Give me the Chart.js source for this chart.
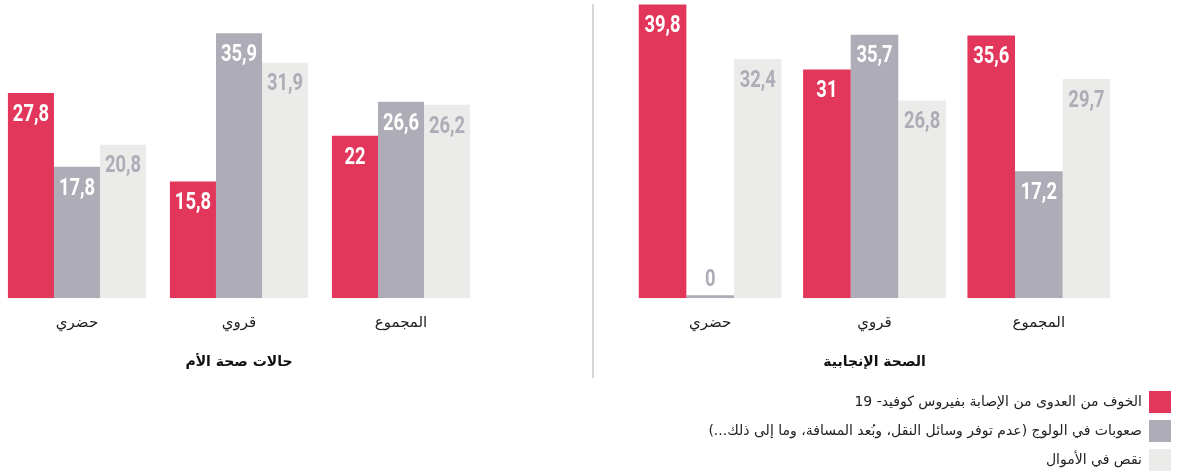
<!DOCTYPE html>
<html><head><meta charset="utf-8">
<script src="https://cdn.jsdelivr.net/npm/chart.js@4.4.1/dist/chart.umd.min.js"></script>
<style>
html,body{margin:0;padding:0;background:#fff;width:1182px;height:476px;overflow:hidden;position:relative;}
canvas{position:absolute;display:block;}
#divider{position:absolute;left:592px;top:4px;width:2px;height:374px;background:#d6d6d6;}
</style></head><body>
<canvas id="cLeft" width="486" height="375" style="left:-4px;top:0"></canvas>
<div id="divider"></div>
<canvas id="cRight" width="493" height="375" style="left:628px;top:0"></canvas>
<canvas id="cLegend" width="1178" height="100" style="left:0;top:384px"></canvas>
<script>
// ---- data ----
const categories = ['حضري', 'قروي', 'المجموع'];
const seriesNames = [
  'الخوف من العدوى من الإصابة بفيروس كوفيد- 19',
  'صعوبات في الولوج (عدم توفر وسائل النقل، وبُعد المسافة، وما إلى ذلك...)',
  'نقص في الأموال'
];
const maternalTitle = 'حالات صحة الأم';
const maternalFear = [27.8, 15.8, 22];
const maternalAccess = [17.8, 35.9, 26.6];
const maternalMoney = [20.8, 31.9, 26.2];
const reproTitle = 'الصحة الإنجابية';
const reproFear = [39.8, 31, 35.6];
const reproAccess = [0, 35.7, 17.2];
const reproMoney = [32.4, 26.8, 29.7];

// ---- styles ----
const colors = ['#e2375b', '#aeacb6', '#ebebea'];
const LABEL_GREY = '#aeacb6';
const ARABIC_FONT = "'DejaVu Sans', sans-serif";
const NUM_FONT = "bold 23px 'Roboto', 'Liberation Sans', sans-serif";
const NUM_SCALE_X = 0.8;

const valueLabels = {
  id: 'valueLabels',
  afterDatasetsDraw(chart) {
    const ctx = chart.ctx;
    chart.data.datasets.forEach((ds, di) => {
      const meta = chart.getDatasetMeta(di);
      meta.data.forEach((bar, i) => {
        const v = ds.data[i];
        const txt = String(v).replace('.', ',');
        let y, color;
        if (v === 0) { y = bar.base - 18; color = LABEL_GREY; }
        else { y = bar.y + 22; color = di === 2 ? LABEL_GREY : '#ffffff'; }
        ctx.save();
        ctx.font = NUM_FONT;
        ctx.textAlign = 'center';
        ctx.textBaseline = 'middle';
        ctx.fillStyle = color;
        ctx.translate(bar.x, y);
        ctx.scale(NUM_SCALE_X, 1);
        ctx.fillText(txt, 0, 0);
        ctx.restore();
      });
    });
  }
};

function makePanel(id, title, fear, access, money, catPct) {
  const sets = [fear, access, money];
  new Chart(document.getElementById(id), {
    type: 'bar',
    data: {
      labels: categories,
      datasets: sets.map((d, i) => ({
        label: seriesNames[i], data: d, backgroundColor: colors[i],
        borderWidth: 0, minBarLength: 3,
        categoryPercentage: catPct, barPercentage: 1
      }))
    },
    options: {
      responsive: false, animation: false,
      layout: { padding: 0 },
      plugins: { legend: { display: false }, tooltip: { enabled: false } },
      scales: {
        x: {
          grid: { display: false, drawTicks: false }, border: { display: false },
          ticks: { padding: 16, color: '#222', font: { family: ARABIC_FONT, size: 15 } },
          title: { display: true, text: title, color: '#111',
                   font: { family: ARABIC_FONT, size: 14, weight: 'bold' },
                   padding: { top: 6, bottom: 4 } }
        },
        y: { display: false, min: 0, max: 40.4 }
      }
    },
    plugins: [valueLabels]
  });
}

makePanel('cLeft', maternalTitle, maternalFear, maternalAccess, maternalMoney, 0.853);
makePanel('cRight', reproTitle, reproFear, reproAccess, reproMoney, 0.869);

new Chart(document.getElementById('cLegend'), {
  type: 'bar',
  data: {
    labels: [],
    datasets: seriesNames.map((n, i) => ({ label: n, data: [], backgroundColor: colors[i], borderWidth: 0 }))
  },
  options: {
    responsive: false, animation: false,
    layout: { padding: 0 },
    plugins: {
      tooltip: { enabled: false },
      legend: {
        position: 'right', align: 'start', rtl: true, textDirection: 'rtl',
        labels: { boxWidth: 22, boxHeight: 22, padding: 7, color: '#222',
                  font: { family: ARABIC_FONT, size: 14 } }
      }
    },
    scales: { x: { display: false }, y: { display: false } }
  }
});
</script>
</body></html>
